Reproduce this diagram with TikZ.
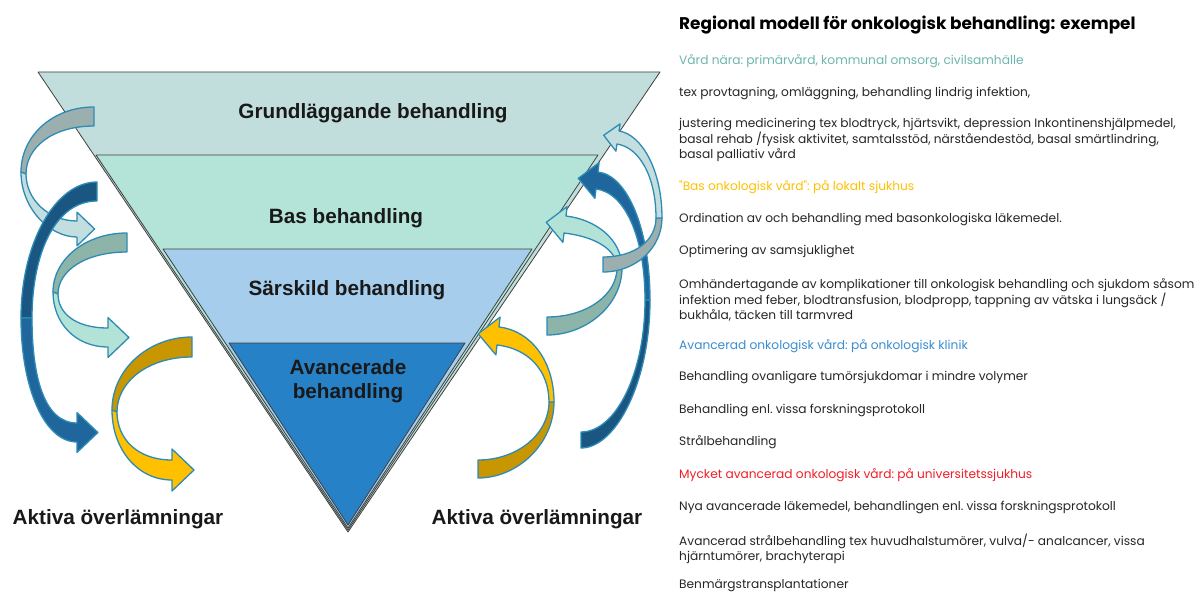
\documentclass[tikz,border=0pt]{standalone}
\usepackage{fontspec}
\setmainfont{Liberation Sans}
\newfontfamily\gothic{Poppins}
\usetikzlibrary{calc}

\definecolor{grundfill}{HTML}{C2DEDC}
\definecolor{basfill}{HTML}{B3E4D7}
\definecolor{sarfill}{HTML}{A6CEEC}
\definecolor{avfill}{HTML}{2781C6}
\definecolor{edgeblue}{HTML}{2E8BB5}
\definecolor{txtgray}{HTML}{262626}
\definecolor{naragreen}{HTML}{6DB6AF}
\definecolor{basorange}{HTML}{FFC000}
\definecolor{klinikblue}{HTML}{3A8DD0}
\definecolor{unired}{HTML}{F01E28}
% pilfärger
\definecolor{grayback}{HTML}{9BAFAF}
\definecolor{grayfront}{HTML}{C3DEDE}
\definecolor{navyback}{HTML}{1A5682}
\definecolor{navyfront}{HTML}{1F669C}
\definecolor{sageback}{HTML}{8DB4A8}
\definecolor{sagefront}{HTML}{B2E3D6}
\definecolor{goldback}{HTML}{C89600}
\definecolor{goldfront}{HTML}{FFC000}

\tikzset{
  layer/.style={draw=black!75, line width=0.8pt, line join=round},
  band/.style={draw=edgeblue, line width=1.3pt, line join=round},
  lvl/.style={font=\bfseries\fontsize{20.7}{24}\selectfont, text=black!90, align=center, inner sep=0pt},
  hand/.style={font=\bfseries\fontsize{20.7}{24}\selectfont, text=black!90, inner sep=0pt},
  info/.style={anchor=west, align=left, inner sep=0pt, text=txtgray,
    font=\gothic\fontsize{12.2}{15.5}\selectfont\frenchspacing},
}

% twisted curved arrow: tail t1/t2, turn l/m, head base b1/b2
\newcommand{\ribbon}[2]{%
  \draw[band, fill=#1] (t1) .. controls ($(t1)!2.2!-90:(t2)$) and ($(l)!.55!(l|-t1)$) .. (l)
    -- (m) .. controls ($(m)!.55!(m|-t2)$) and ($(t2)!2.2!90:(t1)$) .. (t2) -- cycle;
  \draw[band, fill=#2] (l) .. controls ($(l)!.55!(l|-b2)$) and ($(b2)!1.75!90:(b1)$) .. (b2)
    -- ($(b2)!-.55!(b1)$) -- ($(b1)!.5!(b2)!2.2!90:(b2)$) -- ($(b1)!-.55!(b2)$) -- (b1)
    .. controls ($(b1)!1.75!-90:(b2)$) and ($(m)!.55!(m|-b1)$) .. (m) -- cycle;
}

\begin{document}
\begin{tikzpicture}[x=1pt, y=-1pt]
  \fill[white] (0,0) rectangle (1200,594);
  \useasboundingbox (0,0) rectangle (1200,594);

  %pyramiden
  \filldraw[layer, fill=grundfill] (38,72) -- (660,72) -- (348,532) -- cycle;
  \filldraw[layer, fill=basfill] (96,155) -- (598,155) -- (348,530) -- cycle;
  \filldraw[layer, fill=sarfill] (163,249) -- (532,249) -- (348,528) -- cycle;
  \filldraw[layer, fill=avfill] (229,343) -- (465,343) -- (348,525) -- cycle;

  \node[lvl] (grund) at (373,113) {Grundläggande behandling};
  \node[lvl] (bas) at (346,218) {Bas behandling};
  \node[lvl] (sarskild) at (347,290) {Särskild behandling};
  \node[lvl] (avanc) at (348,381) {Avancerade\\behandling};

  %pilar vänster
  \path (94,107) coordinate (t1) (94,126) coordinate (t2) (21,172) coordinate (l)
        (26,174) coordinate (m) (77,221) coordinate (b1) (77,237) coordinate (b2);
  \ribbon{grayback}{grayfront}
  \path (97,182) coordinate (t1) (97,201) coordinate (t2) (21,318) coordinate (l)
        (32,318) coordinate (m) (77,423) coordinate (b1) (77,442) coordinate (b2);
  \ribbon{navyback}{navyfront}
  \path (127,233) coordinate (t1) (127,252) coordinate (t2) (53,292) coordinate (l)
        (58,294) coordinate (m) (108,328) coordinate (b1) (108,347) coordinate (b2);
  \ribbon{sageback}{sagefront}
  \path (192,337) coordinate (t1) (192,357) coordinate (t2) (112,410) coordinate (l)
        (117,412) coordinate (m) (172,460) coordinate (b1) (172,480) coordinate (b2);
  \ribbon{goldback}{goldfront}

  %pilar höger
  \path (478,478) coordinate (t1) (478,460) coordinate (t2) (554,402) coordinate (l)
        (549,402) coordinate (m) (497,345) coordinate (b1) (499,327) coordinate (b2);
  \ribbon{goldback}{goldfront}
  \path (547,335) coordinate (t1) (547,317) coordinate (t2) (622,268) coordinate (l)
        (617,268) coordinate (m) (564,233) coordinate (b1) (566,216) coordinate (b2);
  \ribbon{sageback}{sagefront}
  \path (581,448) coordinate (t1) (581,432) coordinate (t2) (650,300) coordinate (l)
        (645,300) coordinate (m) (596,189) coordinate (b1) (598,172) coordinate (b2);
  \ribbon{navyback}{navyfront}
  \path (603,272) coordinate (t1) (603,257) coordinate (t2) (662,218) coordinate (l)
        (656,218) coordinate (m) (617,144) coordinate (b1) (619,131) coordinate (b2);
  \ribbon{grayback}{grayfront}

  \node[hand] (vanster) at (118,519) {Aktiva överlämningar};
  \node[hand] (hoger) at (537,519) {Aktiva överlämningar};

  %text till höger
  \node[info, text=black, font=\gothic\bfseries\fontsize{16.9}{19}\selectfont] (titel) at (679,25) {Regional modell för onkologisk behandling: exempel};
  \node[info, text=naragreen] (nara) at (679,61) {Vård nära: primärvård, kommunal omsorg, civilsamhälle};
  \node[info] (n1) at (679,93) {tex provtagning, omläggning, behandling lindrig infektion,};
  \node[info] (n2) at (679,140) {justering medicinering tex blodtryck, hjärtsvikt, depression Inkontinenshjälpmedel,\\basal rehab /fysisk aktivitet, samtalsstöd, närståendestöd, basal smärtlindring,\\basal palliativ vård};
  \node[info, text=basorange] (lokalt) at (679,187) {"Bas onkologisk vård": på lokalt sjukhus};
  \node[info] (l1) at (679,220) {Ordination av och behandling med basonkologiska läkemedel.};
  \node[info] (l2) at (679,252) {Optimering av samsjuklighet};
  \node[info] (l3) at (679,300) {Omhändertagande av komplikationer till onkologisk behandling och sjukdom såsom\\infektion med feber, blodtransfusion, blodpropp, tappning av vätska i lungsäck /\\bukhåla, täcken till tarmvred};
  \node[info, text=klinikblue] (klinik) at (679,346) {Avancerad onkologisk vård: på onkologisk klinik};
  \node[info] (k1) at (679,378) {Behandling ovanligare tumörsjukdomar i mindre volymer};
  \node[info] (k2) at (679,410) {Behandling enl. vissa forskningsprotokoll};
  \node[info] (k3) at (679,442) {Strålbehandling};
  \node[info, text=unired] (univ) at (679,475) {Mycket avancerad onkologisk vård: på universitetssjukhus};
  \node[info] (u1) at (679,507) {Nya avancerade läkemedel, behandlingen enl. vissa forskningsprotokoll};
  \node[info] (u2) at (679,549) {Avancerad strålbehandling tex huvudhalstumörer, vulva/- analcancer, vissa\\hjärntumörer, brachyterapi};
  \node[info] (u3) at (679,586) {Benmärgstransplantationer};
\end{tikzpicture}
\end{document}
